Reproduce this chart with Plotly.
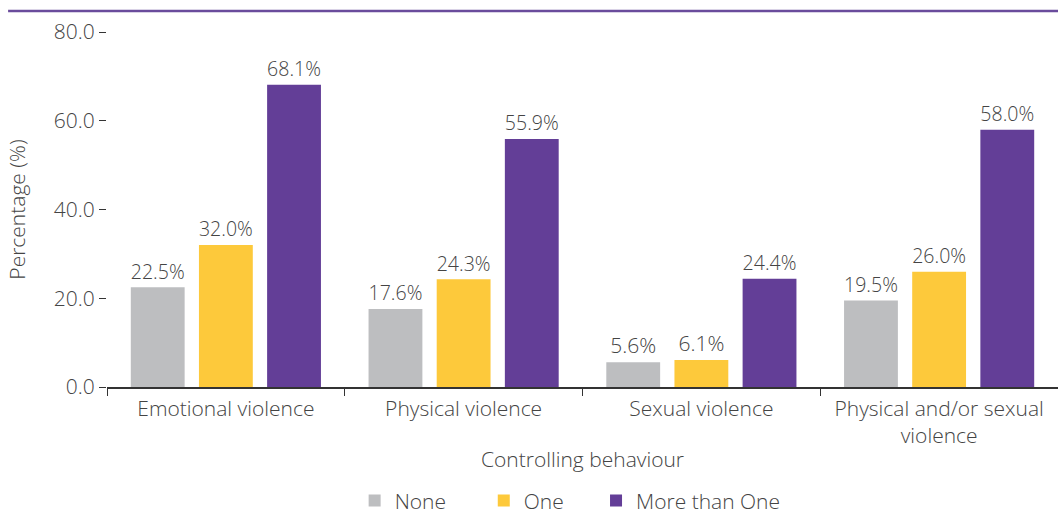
import plotly.graph_objects as go

categories = ["Emotional violence", "Physical violence", "Sexual violence",
              "Physical and/or sexual<br>violence"]
none_vals = [22.5, 17.6, 5.6, 19.5]
one_vals = [32.0, 24.3, 6.1, 26.0]
more_vals = [68.1, 55.9, 24.4, 58.0]
y_ticks = [0, 20, 40, 60, 80]

NBSP = "\u00a0"
series = [
    ("None" + NBSP * 6, none_vals, "#bdbec0"),
    ("One" + NBSP * 5, one_vals, "#fdc93b"),
    ("More than One", more_vals, "#633e97"),
]

FONT = "Open Sans, Lato, sans-serif"
TEXT = "#444444"
W = 300
SIZE = 21

fig = go.Figure()
for name, vals, color in series:
    fig.add_trace(go.Bar(
        name=name, x=categories, y=vals,
        marker=dict(color=color, line=dict(width=0)),
        text=[f"{v:.1f}%" for v in vals],
        textposition="outside", cliponaxis=False,
        textfont=dict(family=FONT, size=SIZE, color=TEXT, weight=W),
    ))

# thin purple rule across the top
fig.add_shape(type="line", xref="paper", yref="paper",
              x0=-0.104, x1=1.0, y0=1.059, y1=1.059,
              line=dict(color="#6a4c9c", width=2.5))

fig.update_layout(
    width=1058, height=519,
    margin=dict(l=107, r=0, t=32, b=132),
    paper_bgcolor="white", plot_bgcolor="white",
    barmode="group", bargap=0.14, bargroupgap=0.21,
    font=dict(family=FONT, size=SIZE, color=TEXT, weight=W),
    showlegend=True,
    legend=dict(orientation="h", x=0.487, xanchor="center",
                yref="container", y=0.035, yanchor="middle",
                font=dict(family=FONT, size=SIZE, color=TEXT, weight=W)),
    xaxis=dict(
        title=dict(text="Controlling behaviour", standoff=4,
                   font=dict(family=FONT, size=SIZE, color=TEXT, weight=W)),
        showline=True, linecolor="#333333", linewidth=1.5,
        ticks="outside", ticklen=7, tickcolor="#333333",
        tickson="boundaries", showgrid=False, ticklabelstandoff=2,
        tickfont=dict(family=FONT, size=SIZE, color=TEXT, weight=W),
    ),
    yaxis=dict(
        title=dict(text="Percentage (%)", standoff=22,
                   font=dict(family=FONT, size=SIZE, color=TEXT, weight=W)),
        range=[0, 80], tickvals=y_ticks,
        ticktext=[f"{v:.1f}" for v in y_ticks],
        ticks="outside", ticklen=7, tickcolor="#333333",
        showline=False, showgrid=False, zeroline=False,
        tickfont=dict(family=FONT, size=SIZE, color=TEXT, weight=W),
    ),
)

fig.write_html("out.html")
